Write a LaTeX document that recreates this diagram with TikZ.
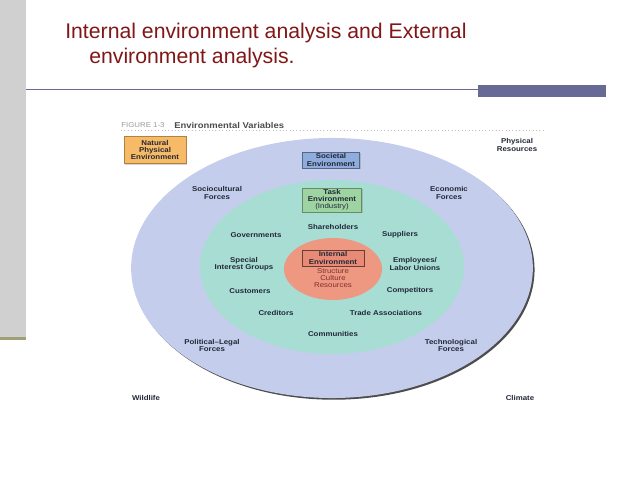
\documentclass[tikz,border=0pt]{standalone}
\usepackage{fontspec}
\setmainfont{Liberation Sans}
\newfontfamily\figfont[FakeStretch=1.12]{Liberation Sans}
\usetikzlibrary{shadows}
\definecolor{titlered}{RGB}{128,22,22}
\definecolor{sidegray}{RGB}{208,208,208}
\definecolor{sideolive}{RGB}{160,160,118}
\definecolor{rulecol}{RGB}{104,106,150}
\definecolor{figtext}{RGB}{35,40,55}
\definecolor{societal}{RGB}{196,206,236}
\definecolor{task}{RGB}{168,221,212}
\definecolor{internal}{RGB}{238,152,130}
\definecolor{natfill}{RGB}{247,186,102}
\definecolor{socfill}{RGB}{142,172,220}
\definecolor{taskfill}{RGB}{158,212,162}
\definecolor{intfill}{RGB}{232,138,118}
\definecolor{restext}{RGB}{125,50,45}
\begin{document}
\begin{tikzpicture}[x=0.025cm,y=-0.025cm,
	title/.style={anchor=base west,inner sep=0pt,text=titlered,font=\fontsize{15.1}{18}\selectfont},
	lbl/.style={inner sep=0pt,align=center,text=figtext,font=\figfont\fontsize{5}{5}\selectfont\bfseries},
	envbox/.style={lbl,draw,line width=0.4pt,inner sep=1pt,
		drop shadow={shadow xshift=0.8pt,shadow yshift=-0.8pt,opacity=0.35}}]
	\useasboundingbox (0,0) rectangle (638,479);
	\fill[sidegray] (0,0) rectangle (26,337);
	\fill[sideolive] (0,337) rectangle (26,340);
	\node[title] (t1) at (65,39) {Internal environment analysis and External};
	\node[title] (t2) at (89,64) {environment analysis.};
	\coordinate (rl) at (26,89.5);
	\coordinate (rr) at (478,89.5);
	\draw[rulecol,line width=0.9pt] (rl) -- (rr);
	\fill[rulecol] (478,85) rectangle (606,97);
	\node[anchor=west,inner sep=0pt,text=gray!80,font=\figfont\fontsize{5}{5}\selectfont] (figno) at (121,125) {FIGURE 1-3};
	\node[anchor=west,inner sep=0pt,text=black!70,font=\figfont\fontsize{6}{6}\selectfont\bfseries] (figname) at (174,125) {Environmental Variables};
	\coordinate (dl) at (121,130);
	\coordinate (dr) at (545,130);
	\draw[gray!50,dotted,line width=0.4pt] (dl) -- (dr);
	\fill[societal,drop shadow={shadow xshift=1.2pt,shadow yshift=-1.2pt,fill=black,opacity=0.7}] (332,268) ellipse [x radius=5.02cm,y radius=3.25cm];
	\fill[task] (332,267) ellipse [x radius=3.3cm,y radius=2.175cm];
	\fill[internal] (333,269) ellipse [x radius=1.225cm,y radius=0.775cm];
	\node[envbox,fill=natfill,draw=natfill!70!black,minimum width=1.55cm,minimum height=0.67cm] (natural) at (155,150) {Natural\\Physical\\Environment};
	\node[envbox,fill=socfill,draw=socfill!60!black,minimum width=1.425cm,minimum height=0.4cm] (soc) at (331,160) {Societal\\Environment};
	\node[envbox,fill=taskfill,draw=taskfill!65!black,minimum width=1.475cm,minimum height=0.6cm] (taskenv) at (332,200) {Task\\Environment\\{\mdseries(Industry)}};
	\node[envbox,fill=intfill,draw=intfill!45!black,minimum width=1.55cm,minimum height=0.4cm] (int) at (333,258) {Internal\\Environment};
	\node[lbl,text=restext,font=\figfont\fontsize{5}{4.8}\selectfont] (res) at (333,278) {Structure\\Culture\\Resources};
	\foreach \x/\y/\txt [count=\i] in {333/227/Shareholders,256/235/Governments,400/235/Suppliers,
		244/264/{Special\\Interest Groups},415/264/{Employees/\\Labor Unions},250/291/Customers,
		410/291/Competitors,276/313/Creditors,386/313/Trade Associations,333/334/Communities,
		217/193/{Sociocultural\\Forces},449/193/{Economic\\Forces},212/345/{Political–Legal\\Forces},
		451/345/{Technological\\Forces},517/145/{Physical\\Resources},146/398/Wildlife,520/398/Climate}
		\node[lbl] (lab\i) at (\x,\y) {\txt};
\end{tikzpicture}
\end{document}
